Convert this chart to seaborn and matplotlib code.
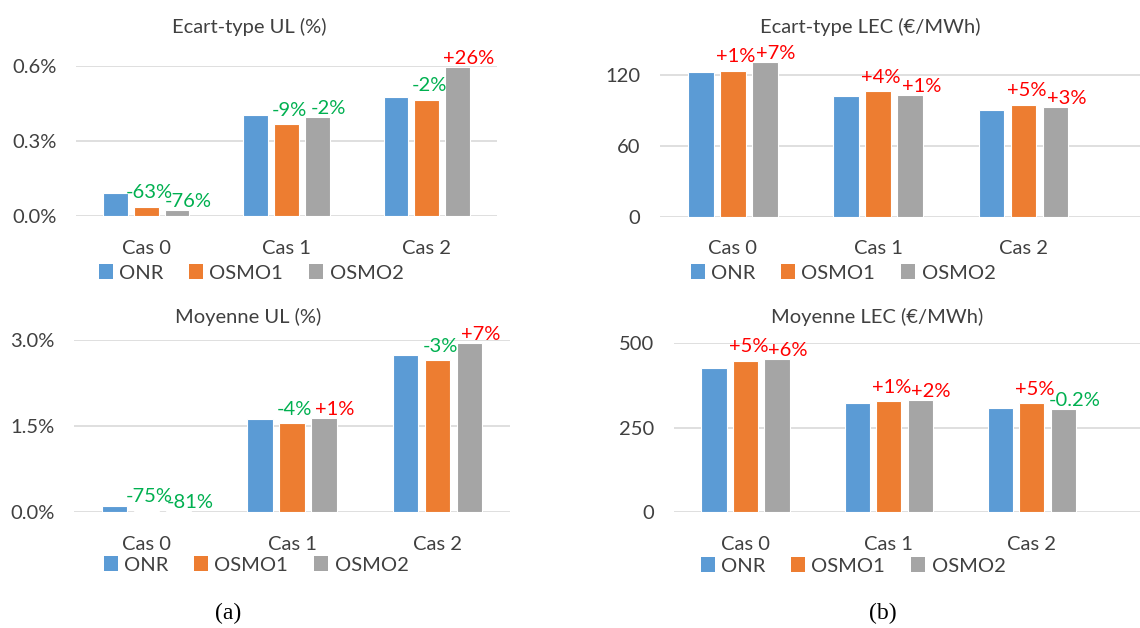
import numpy as np
import pandas as pd
import seaborn as sns
import matplotlib.pyplot as plt
from matplotlib.patches import Patch

# data
cases = ["Cas 0", "Cas 1", "Cas 2"]
series = ["ONR", "OSMO1", "OSMO2"]
colors = ["#5B9BD5", "#ED7D31", "#A5A5A5"]

sd_ul_onr = [0.092, 0.403, 0.475]
sd_ul_osmo1 = [0.036, 0.367, 0.465]
sd_ul_osmo2 = [0.024, 0.395, 0.597]
sd_ul_labels = [["-63%", "-9%", "-2%"], ["-76%", "-2%", "+26%"]]

sd_lec_onr = [122.8, 102.2, 90.6]
sd_lec_osmo1 = [124.0, 106.5, 95.2]
sd_lec_osmo2 = [131.2, 103.4, 93.4]
sd_lec_labels = [["+1%", "+4%", "+5%"], ["+7%", "+1%", "+3%"]]

mean_ul_onr = [0.110, 1.624, 2.749]
mean_ul_osmo1 = [0.028, 1.556, 2.655]
mean_ul_osmo2 = [0.021, 1.638, 2.944]
mean_ul_labels = [["-75%", "-4%", "-3%"], ["-81%", "+1%", "+7%"]]

mean_lec_onr = [427.0, 323.5, 307.7]
mean_lec_osmo1 = [448.0, 328.5, 322.5]
mean_lec_osmo2 = [455.0, 331.5, 306.8]
mean_lec_labels = [["+5%", "+1%", "+5%"], ["+6%", "+2%", "-0.2%"]]

sns.set_style("white")
plt.rcParams["font.family"] = ["Lato", "DejaVu Sans"]
TXT = "#404040"
FS = 14.5

W, H = 1140, 628
fig = plt.figure(figsize=(W / 100, H / 100), dpi=100)


def rect(l, r, t, b):
    return [l / W, 1 - b / H, (r - l) / W, (b - t) / H]


def panel(box, vals, labels, title, ylim, xmax, ticks, fmt, title_xy, leg_xy):
    ax = fig.add_axes(rect(*box))
    df = pd.DataFrame({
        "cas": cases * 3,
        "serie": np.repeat(series, 3),
        "val": np.concatenate(vals),
    })
    sns.barplot(data=df, x="cas", y="val", hue="serie", palette=colors,
                saturation=1, width=0.66, gap=0.2, edgecolor="white",
                linewidth=0.8, ax=ax, legend=False)
    ax.set_xlim(-0.5, xmax)
    ax.set_ylim(*ylim)
    ax.set_yticks(ticks)
    ax.set_yticklabels([fmt(t) for t in ticks])
    ax.set_xlabel("")
    ax.set_ylabel("")
    for s in ax.spines.values():
        s.set_visible(False)
    ax.grid(axis="y", color="#D9D9D9", lw=1.2)
    ax.set_axisbelow(True)
    ax.tick_params(axis="y", length=0, labelsize=FS, colors=TXT, pad=14)
    ax.tick_params(axis="x", length=0, labelsize=FS, colors=TXT, pad=17)

    # percentage change labels on OSMO1 / OSMO2
    # (OSMO1 a bit higher, OSMO2 nudged right, as in the original)
    for cont, labs, off in zip(ax.containers[1:], labels, [(2, 4), (8, 0)]):
        for bar, lab in zip(cont, labs):
            c = "#00B050" if lab.startswith("-") else "#FF0000"
            ax.annotate(lab, (bar.get_x() + bar.get_width() / 2, bar.get_height()),
                        xytext=off, textcoords="offset points",
                        ha="center", va="bottom", fontsize=FS, color=c,
                        annotation_clip=False, zorder=5)

    fig.text(title_xy[0] / W, 1 - title_xy[1] / H, title, ha="center",
             va="center", fontsize=FS, color=TXT)
    handles = [Patch(facecolor=c, edgecolor="none") for c in colors]
    fig.legend(handles, series, loc="center",
               bbox_to_anchor=(leg_xy[0] / W, 1 - leg_xy[1] / H), ncol=3,
               frameon=False, fontsize=FS, handlelength=0.7, handleheight=0.7,
               handletextpad=0.3, columnspacing=1.3, labelcolor=TXT,
               borderpad=0.1)
    return ax


pct = lambda t: f"{t:.1f}%"
num = lambda t: f"{t:.0f}"

panel((76, 497, 66, 216), [sd_ul_onr, sd_ul_osmo1, sd_ul_osmo2], sd_ul_labels,
      "Ecart-type UL (%)", (0, 0.601), 2.5, [0, 0.3, 0.6], pct, (249, 27), (251, 273))
panel((660, 1140, 51.7, 216.7), [sd_lec_onr, sd_lec_osmo1, sd_lec_osmo2], sd_lec_labels,
      "Ecart-type LEC (€/MWh)", (0, 140), 2.8, [0, 60, 120], num, (870, 27), (843, 273))
panel((74, 510, 340, 512.3), [mean_ul_onr, mean_ul_osmo1, mean_ul_osmo2], mean_ul_labels,
      "Moyenne UL (%)", (0, 3.005), 2.5, [0, 1.5, 3.0], pct, (248, 317), (256, 565))
panel((674, 1140, 343.3, 512.3), [mean_lec_onr, mean_lec_osmo1, mean_lec_osmo2], mean_lec_labels,
      "Moyenne LEC (€/MWh)", (0, 500.5), 2.757, [0, 250, 500], num, (877, 317), (853, 566))

fig.text(228 / W, 1 - 613 / H, "(a)", ha="center", va="center",
         fontsize=17, family="Liberation Serif", color="black")
fig.text(883 / W, 1 - 613 / H, "(b)", ha="center", va="center",
         fontsize=17, family="Liberation Serif", color="black")

fig.savefig("out.png", dpi=100)
